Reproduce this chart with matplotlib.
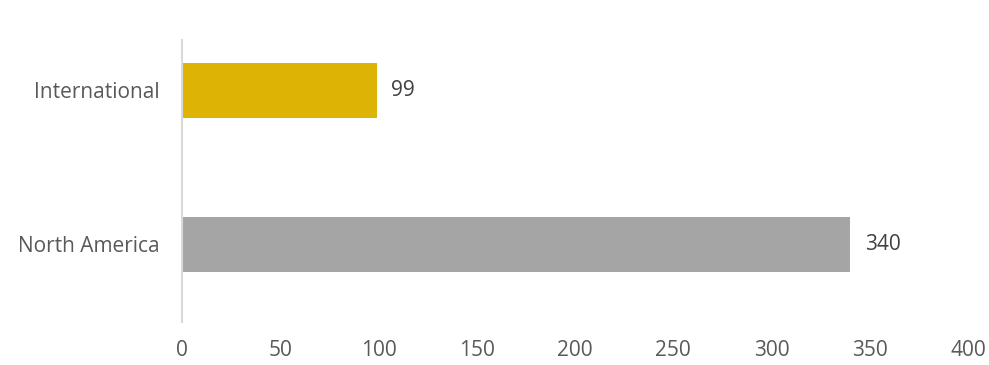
import matplotlib
matplotlib.use("Agg")
import matplotlib.pyplot as plt

categories = ["North America", "International"]
values = [340, 99]
colors = ["#A5A5A5", "#DDB305"]
xticks = [0, 50, 100, 150, 200, 250, 300, 350, 400]

plt.rcParams['font.family'] = ['Open Sans', 'DejaVu Sans']

fig = plt.figure(figsize=(9.89, 3.65), dpi=100)
ax = fig.add_axes([182/989, 1-322/365, (968-182)/989, (322-40)/365])

ypos = list(range(len(categories)))
bars = ax.barh(ypos, values, height=0.357, color=colors)
for y, v in zip(ypos, values):
    ax.text(v + 7.5, y, str(v), va='center', ha='left', fontsize=15, color='#404040')

ax.set_xlim(0, 400)
ax.set_ylim(-0.506, 1.325)
ax.set_yticks(ypos)
ax.set_yticklabels(categories, fontsize=15, color='#595959')
ax.set_xticks(xticks)
ax.set_xticklabels([str(t) for t in xticks], fontsize=15, color='#595959')
ax.tick_params(axis='both', length=0)
ax.tick_params(axis='y', pad=16)
ax.tick_params(axis='x', pad=13)
for s in ['top', 'right', 'bottom']:
    ax.spines[s].set_visible(False)
ax.spines['left'].set_color('#D9D9D9')
ax.spines['left'].set_linewidth(1.5)

fig.savefig("out.png", dpi=100)
